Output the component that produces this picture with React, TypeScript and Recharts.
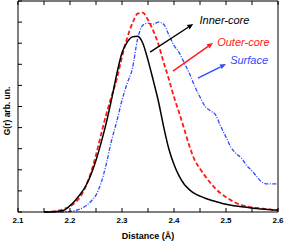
import { LineChart, Line, XAxis, YAxis, ReferenceLine, ReferenceDot, Label } from "recharts";

const distance = [
  2.15, 2.16, 2.17, 2.18, 2.19, 2.2, 2.21, 2.22, 2.23, 2.24, 2.25, 2.26, 2.27, 2.28, 2.29, 2.3,
  2.31, 2.32, 2.33, 2.34, 2.35, 2.36, 2.37, 2.38, 2.39, 2.4, 2.41, 2.42, 2.43, 2.44, 2.45, 2.46,
  2.47, 2.48, 2.49, 2.5, 2.51, 2.52, 2.53, 2.54, 2.55, 2.56, 2.57, 2.58, 2.59, 2.6,
];

const innerCore = [
  0, 0, 0.02, 0.04, 0.1, 0.3, 0.55, 0.85, 1.22, 1.75, 2.45, 3.3, 4.25, 5.35, 6.55, 7.55,
  8.05, 8.3, 8.33, 8.0, 7.2, 6.25, 5.25, 4.05, 3.0, 2.25, 1.7, 1.3, 1.05, 0.87, 0.75, 0.65,
  0.57, 0.5, 0.43, 0.37, 0.32, 0.28, 0.25, 0.22, 0.19, 0.16, 0.14, 0.12, 0.1, 0.09,
];

const outerCore = [
  0, 0.01, 0.03, 0.08, 0.16, 0.27, 0.45, 0.72, 1.2, 1.85, 2.7, 3.7, 4.65, 5.5, 6.3, 7.35,
  8.25, 8.95, 9.4, 9.45, 9.1, 8.6, 7.95, 7.1, 6.3, 5.45, 4.7, 3.9, 3.1, 2.45, 2.05, 1.7,
  1.38, 1.1, 0.88, 0.7, 0.55, 0.42, 0.33, 0.27, 0.22, 0.19, 0.16, 0.13, 0.1, 0.08,
];

const surface = [
  0, 0, 0, 0, 0.01, 0.03, 0.07, 0.15, 0.28, 0.5, 0.8, 1.4, 2.3, 3.4, 4.3, 5.3,
  6.1, 6.8, 8.2, 8.85, 8.95, 8.9, 9.0, 8.9, 8.4, 7.9, 7.55, 7.05, 6.55, 5.95, 5.45, 5.0,
  4.8, 4.6, 4.05, 3.55, 3.05, 2.75, 2.55, 2.2, 1.95, 1.65, 1.4, 1.33, 1.33, 1.33,
];

const xTicks = [2.1, 2.15, 2.2, 2.25, 2.3, 2.35, 2.4, 2.45, 2.5, 2.55, 2.6];
const yTicks = [0, 1, 2, 3, 4, 5, 6, 7, 8, 9, 10];

// annotation: text anchor point and arrow (from -> to), in data units
const notes = [
  { text: "Inner-core", color: "#000000", tx: 2.449, ty: 9.08, from: [2.354, 7.58], to: [2.437, 8.91] },
  { text: "Outer-core", color: "#ff1a1a", tx: 2.483, ty: 8.08, from: [2.398, 6.68], to: [2.475, 8.01] },
  { text: "Surface", color: "#2d4bff", tx: 2.508, ty: 7.2, from: [2.446, 6.35], to: [2.5, 7.01] },
];

const data = distance.map((d, i) => ({
  d,
  inner: innerCore[i],
  outer: outerCore[i],
  surface: surface[i],
}));

const font = "'Liberation Sans', Arial, sans-serif";

const arrowShape = (color: string) => (p: any) => {
  const { x1, y1, x2, y2 } = p;
  const a = Math.atan2(y2 - y1, x2 - x1);
  const len = 6;
  const w = 2.6;
  const bx = x2 - len * Math.cos(a);
  const by = y2 - len * Math.sin(a);
  const pts = [
    `${x2},${y2}`,
    `${bx + w * Math.sin(a)},${by - w * Math.cos(a)}`,
    `${bx - w * Math.sin(a)},${by + w * Math.cos(a)}`,
  ].join(" ");
  return (
    <g>
      <line x1={x1} y1={y1} x2={bx} y2={by} stroke={color} strokeWidth={1.4} />
      <polygon points={pts} fill={color} />
    </g>
  );
};

const noteLabel = (text: string, color: string) => (p: any) => {
  const vb = p.viewBox || {};
  return (
    <text
      x={vb.x}
      y={vb.y}
      dominantBaseline="central"
      fill={color}
      fontSize={11}
      fontStyle="italic"
      fontFamily={font}
    >
      {text}
    </text>
  );
};

const yTitle = (p: any) => {
  const cx = 7;
  const cy = 111;
  return (
    <text
      x={cx}
      y={cy}
      transform={`rotate(-90, ${cx}, ${cy})`}
      textAnchor="middle"
      dominantBaseline="central"
      fontSize={8.5}
      fontWeight="bold"
      fontFamily={font}
      fill="#000"
    >
      G(r) arb. un.
    </text>
  );
};

export default function App() {
  return (
    <div style={{ position: "absolute", left: 0, top: 0, background: "#fff" }}>
      <LineChart
        width={286}
        height={241}
        data={data}
        margin={{ top: 0, right: 0, bottom: 0, left: 0 }}
      >
        <XAxis
          dataKey="d"
          type="number"
          domain={[2.1, 2.6]}
          ticks={xTicks}
          interval={0}
          height={29}
          tickSize={-4}
          tickMargin={9}
          axisLine={{ stroke: "#000", strokeWidth: 1 }}
          tickLine={{ stroke: "#000" }}
          tickFormatter={(v: number) => (Math.round(v * 100) % 10 === 0 ? v.toFixed(1) : "")}
          tick={{ fontSize: 8, fontWeight: "bold", fill: "#000", fontFamily: font }}
        >
          <Label
            value="Distance (Å)"
            position="insideBottom"
            offset={2}
            style={{ fontSize: 9, fontWeight: "bold", fill: "#000", fontFamily: font }}
          />
        </XAxis>
        <XAxis
          xAxisId="top"
          orientation="top"
          dataKey="d"
          type="number"
          domain={[2.1, 2.6]}
          ticks={xTicks}
          interval={0}
          height={1}
          tickSize={-4}
          axisLine={{ stroke: "#7a7a7a", strokeWidth: 2 }}
          tickLine={{ stroke: "#000" }}
          tickFormatter={() => ""}
        />
        <YAxis
          type="number"
          domain={[0, 10]}
          ticks={yTicks}
          interval={0}
          width={18}
          tickSize={-4}
          axisLine={{ stroke: "#000" }}
          tickLine={{ stroke: "#000" }}
          tickFormatter={() => ""}
        >
          <Label content={yTitle} />
        </YAxis>
        <YAxis
          yAxisId="right"
          orientation="right"
          type="number"
          domain={[0, 10]}
          ticks={yTicks}
          interval={0}
          width={8}
          tickSize={-4}
          axisLine={{ stroke: "#000" }}
          tickLine={{ stroke: "#000" }}
          tickFormatter={() => ""}
        />
        <Line
          type="monotone"
          dataKey="surface"
          stroke="#2d4bff"
          strokeWidth={1.3}
          strokeDasharray="4 1.5 1 1.5"
          dot={false}
          isAnimationActive={false}
        />
        <Line
          type="monotone"
          dataKey="outer"
          stroke="#ff1a1a"
          strokeWidth={1.8}
          strokeDasharray="4.5 2.5"
          dot={false}
          isAnimationActive={false}
        />
        <Line
          type="monotone"
          dataKey="inner"
          stroke="#000"
          strokeWidth={1.5}
          dot={false}
          isAnimationActive={false}
        />
        {notes.map((n) => (
          <ReferenceLine
            key={n.text + "-arrow"}
            segment={[
              { x: n.from[0], y: n.from[1] },
              { x: n.to[0], y: n.to[1] },
            ]}
            shape={arrowShape(n.color)}
          />
        ))}
        {notes.map((n) => (
          <ReferenceDot
            key={n.text}
            x={n.tx}
            y={n.ty}
            r={0}
            fill="none"
            stroke="none"
            label={noteLabel(n.text, n.color)}
          />
        ))}
      </LineChart>
    </div>
  );
}
